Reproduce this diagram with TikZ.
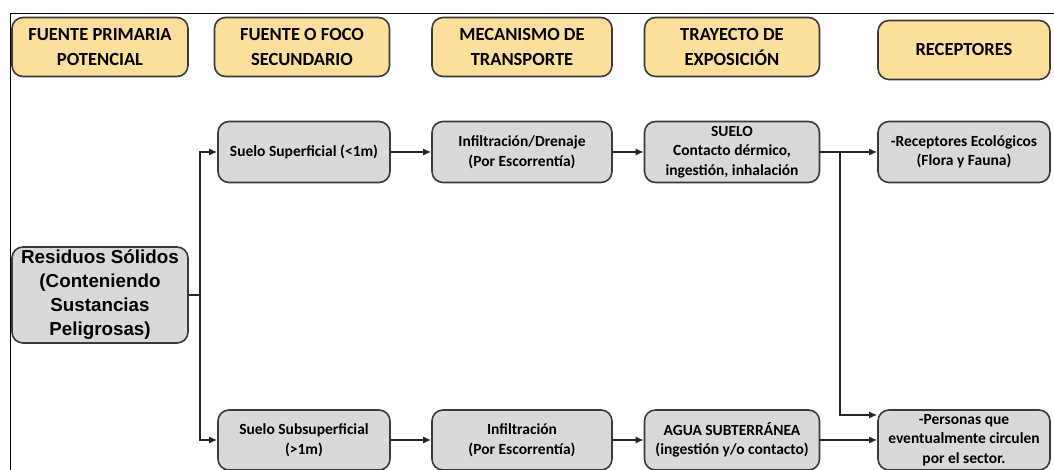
\documentclass[tikz,border=0pt]{standalone}
\usepackage{fontspec}
\setmainfont{Carlito}
\newfontfamily\arialfont{Liberation Sans}
\usepackage{tikz}
\usetikzlibrary{arrows.meta, positioning, calc}

\definecolor{amarillo}{HTML}{FBE09C}
\definecolor{grisclaro}{HTML}{D9D9D9}
\definecolor{borde}{HTML}{3A3A3A}

\tikzset{
    cabecera/.style={draw=borde, line width=1.6pt, fill=amarillo, rounded corners=11pt,
        align=center, inner sep=1pt, font=\fontsize{18.5}{25}\selectfont\bfseries},
    caja/.style={draw=borde, line width=1.6pt, fill=grisclaro, rounded corners=11pt,
        align=center, inner sep=1pt, font=\fontsize{15.5}{19.5}\selectfont\bfseries},
    flecha/.style={-{Latex[length=8pt,width=7pt]}, line width=1.3pt, draw=black!85},
    linea/.style={line width=1.3pt, draw=black!85}
}

\begin{document}
\begin{tikzpicture}[x=1pt, y=1pt]
    \useasboundingbox (0,0) rectangle (1054,470);
    % marco
    \draw[line width=0.8pt] (10,0) -- (10,457) -- (1054,457);

    % cabeceras
    \node[cabecera, minimum width=176, minimum height=59] (h1) at (100,423) {FUENTE PRIMARIA\\POTENCIAL};
    \node[cabecera, minimum width=175, minimum height=59] (h2) at (302,423) {FUENTE O FOCO\\SECUNDARIO};
    \node[cabecera, minimum width=180, minimum height=59] (h3) at (522,423) {MECANISMO DE\\TRANSPORTE};
    \node[cabecera, minimum width=175, minimum height=59] (h4) at (732,423) {TRAYECTO DE\\EXPOSICIÓN};
    \node[cabecera, minimum width=172, minimum height=59] (h5) at (964,420) {RECEPTORES};

    % fuente primaria
    \node[caja, minimum width=176, minimum height=96,
          font=\fontsize{18.8}{24}\selectfont\arialfont\bfseries] (res) at (100,175)
          {Residuos Sólidos\\(Conteniendo\\Sustancias\\Peligrosas)};

    % fila superior
    \node[caja, minimum width=172, minimum height=61] (a1) at (304,318) {Suelo Superficial (<1m)};
    \node[caja, minimum width=180, minimum height=61] (b1) at (522,318) {Infiltración/Drenaje\\(Por Escorrentía)};
    \node[caja, minimum width=175, minimum height=61] (c1) at (732,318) {SUELO\\Contacto dérmico,\\ingestión, inhalación};
    \node[caja, minimum width=172, minimum height=61] (d1) at (964,318) {-Receptores Ecológicos\\(Flora y Fauna)};

    % fila inferior
    \node[caja, minimum width=172, minimum height=60] (a2) at (304,30) {Suelo Subsuperficial\\(>1m)};
    \node[caja, minimum width=180, minimum height=60] (b2) at (522,30) {Infiltración\\(Por Escorrentía)};
    \node[caja, minimum width=175, minimum height=60] (c2) at (732,30) {AGUA SUBTERRÁNEA\\(ingestión y/o contacto)};
    \node[caja, minimum width=172, minimum height=60] (d2) at (964,30) {-Personas que\\eventualmente circulen\\por el sector.};

    % conectores
    \coordinate (t) at (200,175);
    \coordinate (j1) at (840,318);
    \coordinate (j2) at (840,55);
    \draw[linea] (res.east) -- (t);
    \draw[flecha] (t) -- (t |- a1) -- (a1.west);
    \draw[flecha] (t) -- (t |- a2) -- (a2.west);
    \draw[flecha] (a1) -- (b1);
    \draw[flecha] (b1) -- (c1);
    \draw[flecha] (c1) -- (d1);
    \draw[flecha] (j1) -- (j2) -- (d2.west |- j2);
    \draw[flecha] (a2) -- (b2);
    \draw[flecha] (b2) -- (c2);
    \draw[flecha] (c2) -- (d2);
\end{tikzpicture}
\end{document}
